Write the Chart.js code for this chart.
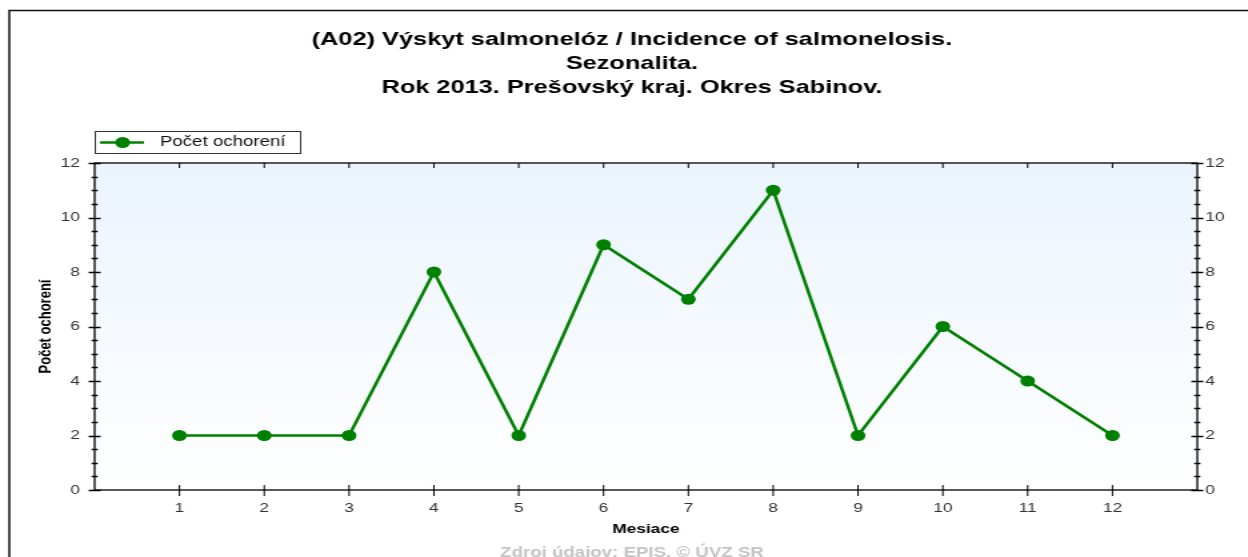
<!DOCTYPE html>
<html>
<head>
<meta charset="utf-8">
<title>Výskyt salmonelóz</title>
<script src="https://cdn.jsdelivr.net/npm/chart.js@4"></script>
<style>
  html, body { margin: 0; padding: 0; background: #fff; overflow: hidden; }
  /* the original picture is a 936px wide chart stretched to 1248px */
  #salmChart { display: block; width: 1248px; height: 557px; }
</style>
</head>
<body>
<canvas id="salmChart" width="936" height="557" style="width:1248px;height:557px"></canvas>
<script>
// ===== Data =====
const months = [1, 2, 3, 4, 5, 6, 7, 8, 9, 10, 11, 12];
const cases = [2, 2, 2, 8, 2, 9, 7, 11, 2, 6, 4, 2];
const yTicks = [0, 2, 4, 6, 8, 10, 12];
const titleLines = [
  "(A02) Výskyt salmonelóz / Incidence of salmonelosis.",
  "Sezonalita.",
  "Rok 2013. Prešovský kraj. Okres Sabinov."
];
const seriesName = "Počet ochorení";
const sourceNote = "Zdroj údajov: EPIS, © ÚVZ SR";

const green = "#008000";
const font = "'Liberation Sans', Arial, sans-serif";

// ===== Frame, title, legend and axis ticks =====
const decorations = {
  id: "decorations",
  beforeDraw(chart) {
    const { ctx, chartArea: a } = chart;
    ctx.save();
    ctx.fillStyle = "#fff";
    ctx.fillRect(0, 0, chart.width, chart.height);
    const grad = ctx.createLinearGradient(0, a.top, 0, a.bottom);
    grad.addColorStop(0, "#ebf4fd");
    grad.addColorStop(1, "#ffffff");
    ctx.fillStyle = grad;
    ctx.fillRect(a.left, a.top, a.right - a.left, a.bottom - a.top);
    ctx.restore();
  },
  afterDraw(chart) {
    const { ctx, chartArea: a } = chart;
    const x = chart.scales.x, y = chart.scales.y;
    ctx.save();

    // outer frame
    ctx.strokeStyle = "#111";
    ctx.lineWidth = 1.5;
    ctx.beginPath();
    ctx.moveTo(7, chart.height);
    ctx.lineTo(7, 10.5);
    ctx.lineTo(chart.width, 10.5);
    ctx.stroke();

    // plot border
    ctx.lineWidth = 1.3;
    ctx.strokeStyle = "#000";
    ctx.strokeRect(a.left, a.top, a.right - a.left, a.bottom - a.top);

    // x ticks (bottom crossing, top inward)
    ctx.lineWidth = 1;
    ctx.beginPath();
    months.forEach(m => {
      const px = x.getPixelForValue(m);
      ctx.moveTo(px, a.bottom - 5); ctx.lineTo(px, a.bottom + 6);
      ctx.moveTo(px, a.top); ctx.lineTo(px, a.top + 5);
    });
    // y ticks on both sides, minor every 0.5
    ctx.stroke();
    ctx.lineWidth = 1.3;
    ctx.beginPath();
    for (let v = 0; v <= 12; v += 0.5) {
      const py = Math.round(y.getPixelForValue(v)) + 0.5;
      const len = (v % 2 === 0) ? 4.5 : 2.3;
      ctx.moveTo(a.left - len, py); ctx.lineTo(a.left + len, py);
      ctx.moveTo(a.right - len, py); ctx.lineTo(a.right + len, py);
    }
    ctx.stroke();

    // title
    ctx.fillStyle = "#000";
    ctx.textAlign = "center";
    ctx.textBaseline = "middle";
    ctx.font = "bold 19px " + font;
    const cx = 474;
    titleLines.forEach((t, i) => ctx.fillText(t, cx, 40 + i * 24));

    // legend
    ctx.lineWidth = 1;
    ctx.strokeStyle = "#333";
    ctx.strokeRect(71.5, 131.5, 154, 22);
    ctx.strokeStyle = green;
    ctx.lineWidth = 2.5;
    ctx.beginPath();
    ctx.moveTo(75, 142.5); ctx.lineTo(108, 142.5);
    ctx.stroke();
    ctx.fillStyle = green;
    ctx.beginPath();
    ctx.arc(92, 142.5, 5.5, 0, Math.PI * 2);
    ctx.fill();
    ctx.fillStyle = "#111";
    ctx.textAlign = "left";
    ctx.font = "14px " + font;
    ctx.fillText(seriesName, 120, 142.5);

    // source note
    ctx.fillStyle = "#c4c4c4";
    ctx.textAlign = "center";
    ctx.font = "bold 14px " + font;
    ctx.fillText(sourceNote, 474, 553);
    ctx.restore();
  }
};

const tickFont = { family: font, size: 13 };
const titleFont = { family: font, size: 13, weight: "bold" };

new Chart(document.getElementById("salmChart"), {
  type: "line",
  data: {
    datasets: [{
      label: seriesName,
      data: months.map((m, i) => ({ x: m, y: cases[i] })),
      borderColor: green,
      backgroundColor: green,
      borderWidth: 2.5,
      pointRadius: 5.5,
      pointHoverRadius: 5.5,
      pointBorderWidth: 0,
      tension: 0
    }]
  },
  options: {
    responsive: false,
    animation: false,
    devicePixelRatio: 1,
    layout: { padding: { top: 163, right: 0, bottom: 0, left: 0 } },
    plugins: {
      legend: { display: false },
      title: { display: false },
      tooltip: { enabled: false }
    },
    scales: {
      x: {
        type: "linear",
        min: 0,
        max: 13,
        afterFit: s => { s.height = 67; },
        grid: { display: false, drawTicks: false },
        border: { display: false },
        ticks: {
          stepSize: 1,
          autoSkip: false,
          maxRotation: 0,
          padding: 11,
          color: "#333",
          font: tickFont,
          callback: v => months.includes(v) ? String(v) : ""
        },
        title: { display: true, text: "Mesiace", color: "#000", font: titleFont, padding: { bottom: 20 } }
      },
      y: {
        min: 0,
        max: 12,
        afterFit: s => { s.width = 71; },
        afterBuildTicks: s => { s.ticks = yTicks.map(v => ({ value: v })); },
        grid: { display: false, drawTicks: false },
        border: { display: false },
        ticks: { padding: 11, color: "#333", font: tickFont },
        title: { display: true, text: seriesName, color: "#000", font: titleFont, padding: { top: 27 } }
      },
      y2: {
        position: "right",
        min: 0,
        max: 12,
        afterFit: s => { s.width = 38; },
        afterBuildTicks: s => { s.ticks = yTicks.map(v => ({ value: v })); },
        grid: { display: false, drawTicks: false },
        border: { display: false },
        ticks: { padding: 6, color: "#333", font: tickFont }
      }
    }
  },
  plugins: [decorations]
});
</script>
</body>
</html>
